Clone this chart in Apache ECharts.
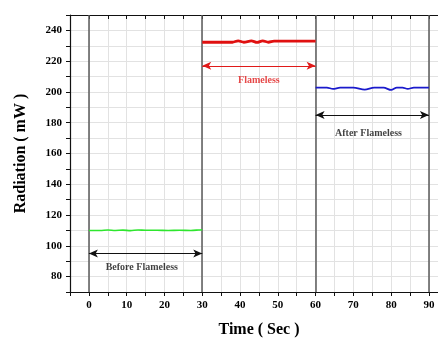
<!DOCTYPE html>
<html><head><meta charset="utf-8">
<script src="https://cdn.jsdelivr.net/npm/echarts@6/dist/echarts.min.js"></script>
<style>html,body{margin:0;padding:0;background:#fff}#c{width:438px;height:338px}</style>
</head><body><div id="c"></div>
<script>
// ---- data ----
const beforeT = [0, 3, 5, 7, 9, 11, 13, 15, 18, 21, 24, 27, 29, 30];
const beforeV = [110, 110, 110.3, 110, 110.2, 109.9, 110.3, 110.1, 110.1, 110, 110.1, 110, 110.3, 110.5];
const flameT = [30, 35, 38, 39.5, 41, 43, 44.5, 46, 47.5, 49, 52, 56, 60];
const flameV = [232.3, 232.3, 232.3, 233.2, 232.3, 233.2, 232.2, 233.2, 232.3, 233, 233, 233, 233];
const afterT = [60, 63, 64.6, 66.5, 70, 73, 75.5, 78, 80, 81.5, 83, 84.4, 86, 90];
const afterV = [202.8, 202.8, 202, 202.8, 202.8, 201.5, 202.8, 202.8, 201.3, 202.8, 202.8, 202, 202.8, 202.8];
const boundaryT = [0, 30, 60, 90];
const arrowFrom = [0, 30, 60];
const arrowTo = [30, 60, 90];
const arrowY = [95, 217, 185];
const noteText = ['Before Flameless', 'Flameless', 'After Flameless'];
const noteX = [14, 45, 74];
const noteY = [86, 207.5, 173];
const noteColor = ['#111', '#e01a1a', '#111'];
const arrowColor = ['#111', '#e01a1a', '#111'];

const xMin = -5, xMax = 92.4, yMin = 70, yMax = 250;
const font = 'Liberation Serif';
const zip = (a, b) => a.map((v, i) => [v, b[i]]);

const chart = echarts.init(document.getElementById('c'), null, {renderer: 'canvas'});
const markLines = arrowFrom.map((f, i) => [
  {coord: [f, arrowY[i]], lineStyle: {color: arrowColor[i], width: 1.2}},
  {coord: [arrowTo[i], arrowY[i]]}
]);
chart.setOption({
  animation: false,
  grid: {left: 70, right: 0, top: 15, bottom: 46, outerBoundsMode: 'none', containLabel: false},
  xAxis: [{
    type: 'value', min: xMin, max: xMax, interval: 5,
    name: 'Time ( Sec )', nameLocation: 'middle', nameGap: 30,
    nameTextStyle: {fontFamily: font, fontWeight: 'bold', fontSize: 16, color: '#000', padding: [0, 0, 0, 10]},
    axisLine: {onZero: false, lineStyle: {color: '#111', width: 1.2}},
    axisTick: {length: 4, lineStyle: {color: '#111'}},
    axisLabel: {fontFamily: font, fontWeight: 'bold', fontSize: 11, color: '#000', margin: 8,
      showMinLabel: true, showMaxLabel: true,
      formatter: v => (v >= 0 && Math.abs(v % 10) < 1e-6 && v <= 90) ? String(v) : ''},
    splitLine: {show: true, lineStyle: {color: '#e2e2e2', width: 1}}
  }, {
    type: 'value', position: 'top', min: xMin, max: xMax, interval: 5,
    axisLine: {onZero: false, lineStyle: {color: '#111', width: 1.2}},
    axisTick: {inside: true, length: 4, lineStyle: {color: '#111'}},
    axisLabel: {show: false}, splitLine: {show: false}
  }],
  yAxis: {
    type: 'value', min: yMin, max: yMax, interval: 10,
    name: 'Radiation ( mW )', nameLocation: 'middle', nameGap: 41,
    nameTextStyle: {fontFamily: font, fontWeight: 'bold', fontSize: 16, color: '#000'},
    axisLine: {show: true, onZero: false, lineStyle: {color: '#111', width: 1.2}},
    axisTick: {show: true, length: 4, lineStyle: {color: '#111'}},
    axisLabel: {fontFamily: font, fontWeight: 'bold', fontSize: 11, color: '#000', margin: 8,
      formatter: v => (v >= 80 && v <= 240 && (v - 80) % 20 === 0) ? String(v) : ''},
    splitLine: {show: true, lineStyle: {color: '#e2e2e2', width: 1}}
  },
  series: [
    {type: 'line', data: zip(beforeT, beforeV), symbol: 'none', smooth: 0.3,
     lineStyle: {color: '#2ee62e', width: 1.6}, z: 5,
     markLine: {silent: true, symbol: 'none', label: {show: false},
       lineStyle: {color: '#5a5a5a', width: 1.5, type: 'solid'},
       data: boundaryT.map(t => ({xAxis: t}))}},
    {type: 'line', data: zip(flameT, flameV), symbol: 'none', smooth: 0.3,
     lineStyle: {color: '#e01010', width: 2.8}, z: 5},
    {type: 'line', data: zip(afterT, afterV), symbol: 'none', smooth: 0.3,
     lineStyle: {color: '#1a1acc', width: 1.8}, z: 5,
     markLine: {silent: true, symbol: ['arrow', 'arrow'], symbolSize: [6, 9], label: {show: false},
       lineStyle: {type: 'solid'}, data: markLines}},
    {type: 'scatter', symbolSize: 0, silent: true, z: 6,
     data: noteX.map((x, i) => ({value: [x, noteY[i]], label: {color: noteColor[i]}, name: noteText[i]})),
     label: {show: true, position: 'inside', formatter: p => p.name,
       fontFamily: font, fontWeight: 'bold', fontSize: 10}}
  ]
});
</script></body></html>
